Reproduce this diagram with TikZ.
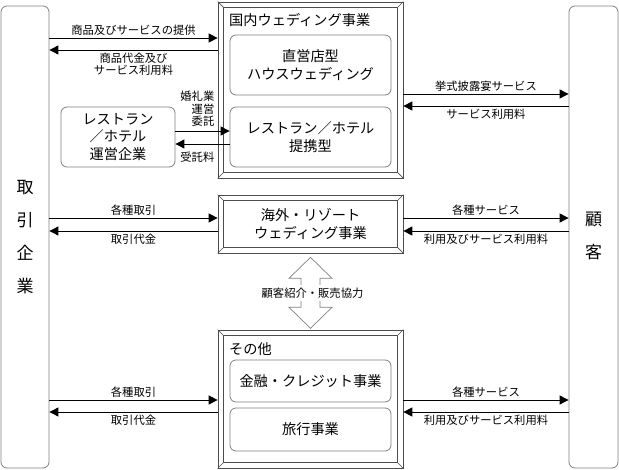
\documentclass[tikz,border=0pt]{standalone}
\usepackage{fontspec}
\setmainfont{Noto Sans CJK JP}
\usepackage{tikz}
\usetikzlibrary{arrows.meta,positioning}
\tikzset{
    party/.style={
                draw=gray,
                line width=0.8pt,
                rounded corners=6pt
            },
        partyname/.style={
                align=center,
                font=\fontsize{17}{33}\selectfont
            },
        bevel/.style={
                draw=black!70,
                line width=0.7pt
            },
        unit/.style={
                draw=gray,
                line width=0.8pt,
                rounded corners=6pt,
                align=center,
                inner sep=0pt,
                font=\fontsize{14.2}{17.5}\selectfont
            },
        title/.style={
                anchor=west,
                inner sep=0pt,
                font=\fontsize{14.2}{17}\selectfont
            },
        lbl/.style={
                align=center,
                inner sep=1pt,
                font=\fontsize{11.3}{12}\selectfont
            },
        flow/.style={line width=0.9pt,-{Triangle[length=9pt,width=9pt]}},
        coop/.style={draw=gray,line width=0.7pt},
}
\begin{document}
\begin{tikzpicture}[x=1pt,y=-1pt]
  \useasboundingbox (0,0) rectangle (619,470);
  % Parties
  \node[party,minimum width=48pt,minimum height=462pt] (firm) at (25,237) {};
  \node[party,minimum width=49pt,minimum height=462pt] (cust) at (593.5,237) {};
  \node[partyname] (firmname) at (firm) {取\\引\\企\\業};
  \node[partyname] (custname) at (593.5,235.5) {顧\\客};
  % Business frames
  \node[bevel,minimum width=185pt,minimum height=176pt] (dom) at (310.5,90) {};
  \node[bevel,minimum width=185pt,minimum height=58pt] (ovs) at (310.5,224) {};
  \node[bevel,minimum width=185pt,minimum height=138pt] (oth) at (310.5,399) {};
  \foreach \f in {dom,ovs,oth}{
    \draw[bevel] ([shift={(6pt,-6pt)}]\f.north west) rectangle ([shift={(-6pt,6pt)}]\f.south east);
    \foreach \c/\dx/\dy in {north west/6pt/-6pt,north east/-6pt/-6pt,south west/6pt/6pt,south east/-6pt/6pt}
      \draw[bevel] (\f.\c) -- ([shift={(\dx,\dy)}]\f.\c);
  }
  \node[title] (domtitle) at (229,20) {国内ウェディング事業};
  \node[title] (othtitle) at (229,349) {その他};
  % Units
  \node[unit,minimum width=161pt,minimum height=60pt] (house) at (310.5,65) {直営店型\\ハウスウェディング};
  \node[unit,minimum width=161pt,minimum height=60pt] (hotel) at (310.5,137) {レストラン／ホテル\\提携型};
  \node[unit,minimum width=114pt,minimum height=60pt] (oper) at (118,137) {レストラン\\／ホテル\\運営企業};
  \node[unit,draw=none] (ovsname) at (ovs) {海外・リゾート\\ウェディング事業};
  \node[unit,minimum width=161pt,minimum height=42pt] (fin) at (310.5,381) {金融・クレジット事業};
  \node[unit,minimum width=161pt,minimum height=43pt] (trav) at (310.5,429.5) {旅行事業};
  % Flows of the domestic business
  \draw[flow] (firm.east |- 0,38) -- (dom.west |- 0,38)
    node[lbl,midway,above=1pt] (goods) {商品及びサービスの提供};
  \draw[flow] (dom.west |- 0,50) -- (firm.east |- 0,50)
    node[lbl,midway,below=2pt] (goodsfee) {商品代金及び\\サービス利用料};
  \draw[flow] (oper.east |- 0,131) -- (hotel.west |- 0,131);
  \draw[flow] (hotel.west |- 0,144) -- (oper.east |- 0,144);
  \node[lbl,align=right,anchor=east,font=\fontsize{11.3}{12.5}\selectfont] (entrust) at (215.5,109) {婚礼業\\運営\\委託};
  \node[lbl,anchor=east] (entrustfee) at (215.5,157) {受託料};
  \draw[flow] (dom.east |- 0,94) -- (cust.west |- 0,94)
    node[lbl,midway,above=1pt] (ceremony) {挙式披露宴サービス};
  \draw[flow] (cust.west |- 0,106) -- (dom.east |- 0,106)
    node[lbl,midway,below=2pt] (ceremonyfee) {サービス利用料};
  % Flows of the other businesses
  \foreach \f/\ya/\yb in {ovs/218/231,oth/400/412}{
    \draw[flow] (firm.east |- 0,\ya) -- (\f.west |- 0,\ya)
      node[lbl,midway,above=1pt] (trade-\f) {各種取引};
    \draw[flow] (\f.west |- 0,\yb) -- (firm.east |- 0,\yb)
      node[lbl,midway,below=2pt] (tradefee-\f) {取引代金};
    \draw[flow] (\f.east |- 0,\ya) -- (cust.west |- 0,\ya)
      node[lbl,midway,above=1pt] (service-\f) {各種サービス};
    \draw[flow] (cust.west |- 0,\yb) -- (\f.east |- 0,\yb)
      node[lbl,midway,below=2pt] (servicefee-\f) {利用及びサービス利用料};
  }
  % Cooperation
  \draw[coop] ([yshift=-4pt]ovs.south) -- ++(21.5,21) -- ++(-12,0) -- ++(0,29) -- ++(12,0)
    -- ++(-21.5,21) -- ++(-21.5,-21) -- ++(12,0) -- ++(0,-29) -- ++(-12,0) -- cycle;
  \node[lbl,fill=white,inner sep=3pt] (coopname) at (312.5,293) {顧客紹介・販売協力};
\end{tikzpicture}
\end{document}
